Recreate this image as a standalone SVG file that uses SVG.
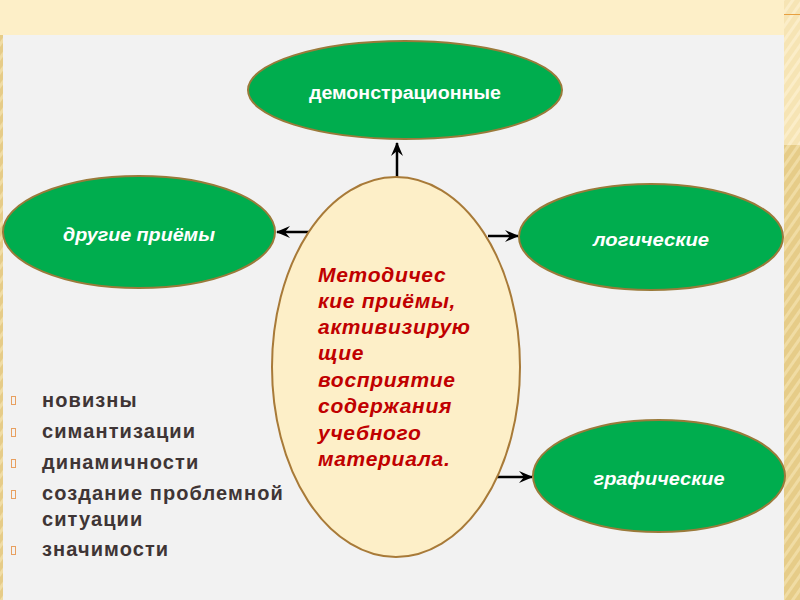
<svg xmlns="http://www.w3.org/2000/svg" width="800" height="600" viewBox="0 0 800 600">
<defs>
<pattern id="stripes" width="8" height="8" patternUnits="userSpaceOnUse" patternTransform="rotate(35)">
<rect width="8" height="8" fill="#E6CC88"/>
<rect width="3" height="8" fill="#F0DCA4"/>
</pattern>
<pattern id="stripesLight" width="8" height="8" patternUnits="userSpaceOnUse" patternTransform="rotate(35)">
<rect width="8" height="8" fill="#F6E4B4"/>
<rect width="3" height="8" fill="#FBEDC8"/>
</pattern>
<marker id="arr" viewBox="0 0 14 12" refX="13" refY="6" markerWidth="14" markerHeight="12" markerUnits="userSpaceOnUse" orient="auto">
<path d="M0,0 L14,6 L0,12 L5,6 Z" fill="#000"/>
</marker>
<style>
.green{fill:#00AD4E;stroke:#9A7A3A;stroke-width:2}
.lbl{font-family:"Liberation Sans",Arial,sans-serif;font-weight:bold;fill:#FFFFFF;font-size:18px;text-anchor:middle}
.it{font-style:italic}
.conn{stroke:#000;stroke-width:2.5;fill:none;marker-end:url(#arr)}
.center{font-family:"Liberation Sans",Arial,sans-serif;font-weight:bold;font-style:italic;fill:#C00000;font-size:21px;letter-spacing:0.7px}
.bul{font-family:"Liberation Sans",Arial,sans-serif;font-weight:bold;fill:#3F3535;font-size:20px;letter-spacing:1.1px}
.box{fill:none;stroke:#E8A060;stroke-width:1}
</style>
</defs>
<rect x="0" y="0" width="800" height="600" fill="#FDEFC8"/>
<rect x="0" y="35" width="3" height="565" fill="url(#stripes)"/>
<rect x="784" y="0" width="16" height="145" fill="url(#stripesLight)"/>
<rect x="784" y="145" width="16" height="455" fill="url(#stripes)"/>
<line x1="784" y1="14.5" x2="800" y2="14.5" stroke="#E8A040" stroke-width="1"/>
<rect x="3" y="35" width="781" height="565" fill="#F2F2F2"/>

<g id="connectors">
<line class="conn" x1="397" y1="177" x2="397" y2="143"/>
<line class="conn" x1="310" y1="232" x2="277" y2="232"/>
<line class="conn" x1="488" y1="236" x2="518" y2="236"/>
<line class="conn" x1="488" y1="477" x2="532" y2="477"/>
</g>

<g id="center-node">
<ellipse cx="396" cy="367" rx="124" ry="190" fill="#FDEFC8" stroke="#A87A38" stroke-width="2"/>
<text class="center" x="318" y="282">Методичес</text>
<text class="center" x="318" y="308">кие приёмы,</text>
<text class="center" x="318" y="334">активизирую</text>
<text class="center" x="318" y="360">щие</text>
<text class="center" x="318" y="387">восприятие</text>
<text class="center" x="318" y="413">содержания</text>
<text class="center" x="318" y="440">учебного</text>
<text class="center" x="318" y="466">материала.</text>
</g>

<g id="node-demo">
<ellipse class="green" cx="405" cy="90" rx="157" ry="49"/>
<text class="lbl" x="405" y="99" textLength="192" lengthAdjust="spacingAndGlyphs">демонстрационные</text>
</g>
<g id="node-other">
<ellipse class="green" cx="139" cy="232" rx="136" ry="56"/>
<text class="lbl it" x="139" y="241" textLength="152" lengthAdjust="spacingAndGlyphs">другие приёмы</text>
</g>
<g id="node-logic">
<ellipse class="green" cx="651" cy="237" rx="132" ry="53"/>
<text class="lbl it" x="651" y="246" textLength="116" lengthAdjust="spacingAndGlyphs">логические</text>
</g>
<g id="node-graph">
<ellipse class="green" cx="659" cy="476" rx="126" ry="56"/>
<text class="lbl it" x="659" y="485" textLength="131" lengthAdjust="spacingAndGlyphs">графические</text>
</g>

<g id="bullets">
<rect class="box" x="11.5" y="396.5" width="4" height="8"/>
<rect class="box" x="11.5" y="428.5" width="4" height="8"/>
<rect class="box" x="11.5" y="459.5" width="4" height="8"/>
<rect class="box" x="11.5" y="490.5" width="4" height="8"/>
<rect class="box" x="11.5" y="546.5" width="4" height="8"/>
<text class="bul" x="42" y="407">новизны</text>
<text class="bul" x="42" y="438">симантизации</text>
<text class="bul" x="42" y="469">динамичности</text>
<text class="bul" x="42" y="500">создание проблемной</text>
<text class="bul" x="42" y="526">ситуации</text>
<text class="bul" x="42" y="556">значимости</text>
</g>
</svg>
